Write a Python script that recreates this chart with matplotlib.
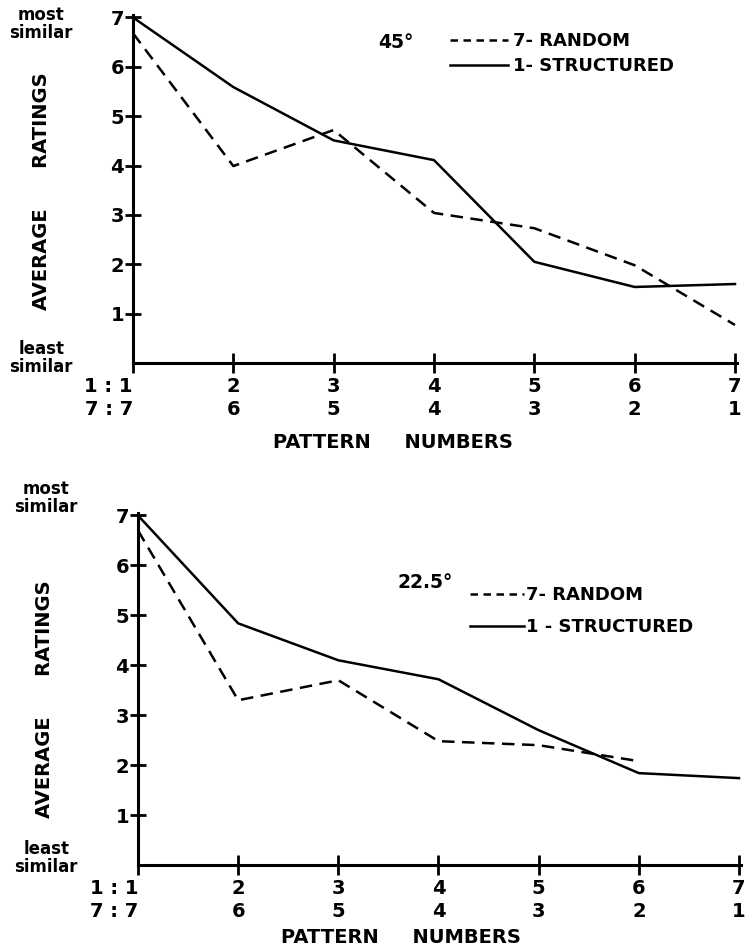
import numpy as np
import matplotlib
matplotlib.use("Agg")
import matplotlib.pyplot as plt
from matplotlib.lines import Line2D

plt.rcParams['font.family'] = ['DejaVu Sans']
plt.rcParams['font.weight'] = 'bold'

## data
patterns = [1, 2, 3, 4, 5, 6, 7]
tick_labels = ['1 : 1\n7 : 7', '2\n6', '3\n5', '4\n4', '5\n3', '6\n2', '7\n1']
y_ticks = [1, 2, 3, 4, 5, 6, 7]

random_45 = [6.68, 3.99, 4.72, 3.04, 2.73, 1.98, 0.77]
structured_45 = [7.0, 5.59, 4.51, 4.11, 2.05, 1.54, 1.60]

random_225 = [6.70, 3.30, 3.70, 2.48, 2.40, 2.08, np.nan]
structured_225 = [7.0, 4.84, 4.10, 3.72, 2.70, 1.84, 1.74]

fig = plt.figure(figsize=(7.52, 9.5), dpi=100)

ax1 = fig.add_axes([133/752, 1 - 363/950, 604/752, 348/950])
ax2 = fig.add_axes([138/752, 85/950, 603/752, 352/950])


def draw_panel(ax, rnd, struc, xlab_pos, ylab_pos, most_y, least_y):
    ax.plot(patterns, rnd, color='black', lw=1.8, dashes=(5, 3), label='7- RANDOM')
    ax.plot(patterns, struc, color='black', lw=1.8, label='1- STRUCTURED')

    ax.set_xlim(1, 7.02)
    ax.set_ylim(0, 7.05)
    for s in ['top', 'right']:
        ax.spines[s].set_visible(False)
    for s in ['left', 'bottom']:
        ax.spines[s].set_linewidth(2.2)

    ax.set_yticks(y_ticks)
    ax.set_yticklabels([str(v) for v in y_ticks], fontsize=14, fontweight='bold')
    ax.set_xticks(patterns)
    ax.set_xticklabels(tick_labels, fontsize=14, fontweight='bold', linespacing=1.25)
    ax.get_xticklabels()[0].set_horizontalalignment('right')
    ax.tick_params(axis='y', direction='inout', length=12, width=2, pad=0.5)
    ax.tick_params(axis='x', direction='inout', length=14, width=2, pad=3)

    ax.set_xlabel('PATTERN     NUMBERS', fontsize=14, fontweight='bold')
    ax.xaxis.set_label_coords(*xlab_pos)
    ax.set_ylabel('AVERAGE      RATINGS', fontsize=14, fontweight='bold', va='center')
    ax.yaxis.set_label_coords(*ylab_pos)

    ax.text(-0.152, most_y, 'most\nsimilar', transform=ax.transAxes, fontsize=12,
            fontweight='bold', ha='center', va='center', linespacing=1.0)
    ax.text(-0.152, least_y, 'least\nsimilar', transform=ax.transAxes, fontsize=12,
            fontweight='bold', ha='center', va='center', linespacing=1.0)


draw_panel(ax1, random_45, structured_45, (0.43, -0.2), (-0.152, 0.494), 0.975, 0.015)
draw_panel(ax2, random_225, structured_225, (0.436, -0.18), (-0.155, 0.47), 1.043, 0.02)

## legends
h1 = [Line2D([], [], color='black', lw=1.8, dashes=(3, 2.2)),
      Line2D([], [], color='black', lw=1.8)]
fig.legend(h1, ['7- RANDOM', '1- STRUCTURED'], loc='upper left',
           bbox_to_anchor=(450/752, 1 - 32/950), frameon=False,
           handlelength=3.2, handletextpad=0.3, labelspacing=0.4,
           borderpad=0, borderaxespad=0, prop={'weight': 'bold', 'size': 13})
fig.text(378/752, 1 - 42/950, '45°', fontsize=13.5, fontweight='bold', va='center')

fig.legend(h1, ['7- RANDOM', '1 - STRUCTURED'], loc='upper left',
           bbox_to_anchor=(470/752, 1 - 586/950), frameon=False,
           handlelength=3.0, handletextpad=0.1, labelspacing=0.8,
           borderpad=0, borderaxespad=0, prop={'weight': 'bold', 'size': 13})
fig.text(397/752, 1 - 582/950, '22.5°', fontsize=13.5, fontweight='bold', va='center')

plt.savefig('out.png', dpi=100)
